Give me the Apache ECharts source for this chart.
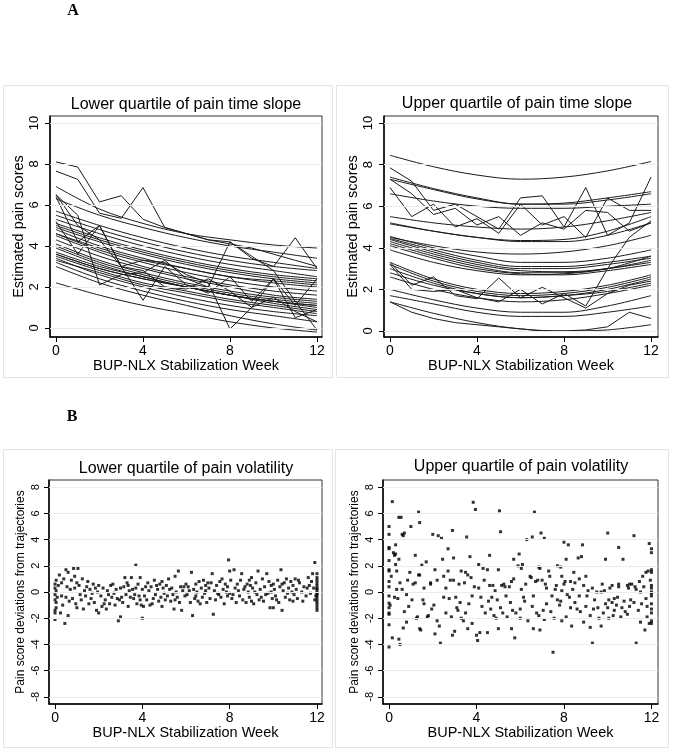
<!DOCTYPE html>
<html>
<head>
<meta charset="utf-8">
<script src="https://cdn.jsdelivr.net/npm/echarts@6/dist/echarts.min.js"></script>
<style>
html,body{margin:0;padding:0;background:#fff;}
#chart{width:673px;height:755px;}
</style>
</head>
<body>
<div id="chart"></div>
<script>
// ---------- DATA ----------
const panelTitles = ["Lower quartile of pain time slope","Upper quartile of pain time slope","Lower quartile of pain volatility","Upper quartile of pain volatility"];
const xTitle = "BUP-NLX Stabilization Week";
const yTitleTop = "Estimated pain scores";
const yTitleBottom = "Pain score deviations from trajectories";
const xTicks = [0,4,8,12];
const yTicksTop = [0,2,4,6,8,10];
const yTicksBottom = [-8,-6,-4,-2,0,2,4,6,8];
const weeksEven = [0,2,4,6,8,10,12];
const weeksAll = [0,1,2,3,4,5,6,7,8,9,10,11,12];

// Panel A-left: smooth estimated trajectories (weeks 0,2,...,12)
const lowSlopeCurves = [
 [6.9,5.8,5.1,4.6,4.3,4.05,3.9],
 [6.3,5.5,4.9,4.4,4.0,3.7,3.4],
 [5.7,5.0,4.4,3.9,3.5,3.2,2.9],
 [5.5,4.8,4.2,3.7,3.3,3.0,2.8],
 [5.3,4.6,4.0,3.5,3.1,2.8,2.5],
 [5.1,4.4,3.8,3.3,2.9,2.6,2.4],
 [5.0,4.3,3.7,3.2,2.8,2.5,2.3],
 [4.9,4.2,3.6,3.1,2.7,2.4,2.2],
 [4.8,4.0,3.4,2.9,2.5,2.2,2.0],
 [4.6,3.9,3.3,2.9,2.5,2.3,2.1],
 [4.6,3.8,3.2,2.7,2.3,2.0,1.8],
 [4.5,3.7,3.0,2.5,2.1,1.8,1.6],
 [4.3,3.5,2.9,2.4,2.0,1.6,1.4],
 [4.1,3.3,2.7,2.2,1.8,1.5,1.3],
 [4.0,3.2,2.6,2.1,1.7,1.4,1.2],
 [3.9,3.1,2.5,2.0,1.6,1.3,1.1],
 [3.7,3.0,2.5,2.0,1.6,1.3,1.0],
 [3.6,2.9,2.4,2.0,1.6,1.3,1.1],
 [3.6,2.9,2.4,2.0,1.6,1.2,0.9],
 [3.5,2.8,2.2,1.8,1.4,1.1,0.8],
 [3.4,2.6,2.0,1.5,1.1,0.8,0.6],
 [3.3,2.7,2.1,1.7,1.3,1.0,0.7],
 [3.2,2.4,1.8,1.3,0.9,0.6,0.3],
 [3.0,2.2,1.6,1.1,0.6,0.2,-0.1],
 [2.2,1.6,1.1,0.7,0.3,0.0,-0.2]
];
// Panel A-left: observed (jagged) trajectories (weeks 0..12)
const lowSlopeRaw = [
 [8.1,7.85,6.15,6.45,5.3,4.9,4.6,4.3,4.1,3.9,3.6,3.3,3.0],
 [7.65,7.25,5.6,5.35,6.85,4.9,4.6,4.3,4.2,3.4,3.0,4.4,2.9],
 [6.5,5.0,4.3,3.0,3.3,3.2,2.6,2.2,-0.05,1.0,2.4,1.1,2.4],
 [6.4,4.2,5.0,3.0,1.35,3.0,2.1,1.7,2.5,1.3,2.4,0.5,0.9],
 [6.5,5.5,2.1,2.6,2.7,3.3,2.4,2.0,4.2,3.5,2.8,1.3,-0.1],
 [5.2,3.6,5.0,3.0,2.8,2.0,1.9,2.4,1.8,1.0,1.5,0.8,0.3]
];
// Panel A-right: smooth estimated trajectories (weeks 0,2,...,12)
const highSlopeCurves = [
 [8.45,7.9,7.5,7.3,7.4,7.7,8.15],
 [7.4,6.85,6.4,6.1,6.1,6.3,6.6],
 [7.3,6.8,6.35,6.1,6.15,6.4,6.7],
 [6.6,6.25,6.0,5.9,5.9,6.0,6.1],
 [5.5,5.2,5.0,4.9,5.0,5.3,5.7],
 [5.2,4.8,4.5,4.35,4.4,4.8,5.5],
 [5.15,4.8,4.5,4.3,4.3,4.6,5.2],
 [4.55,4.0,3.6,3.3,3.3,3.5,3.9],
 [4.5,4.1,3.8,3.7,3.8,4.1,4.6],
 [4.45,3.9,3.4,3.1,3.1,3.3,3.6],
 [4.4,3.8,3.3,3.0,3.0,3.2,3.5],
 [4.3,3.7,3.2,2.9,2.85,3.0,3.4],
 [4.2,3.6,3.1,2.8,2.8,3.0,3.3],
 [4.1,3.5,3.0,2.75,2.7,2.9,3.2],
 [3.9,3.3,2.9,2.7,2.75,3.0,3.6],
 [3.3,2.5,2.0,1.8,1.9,2.2,2.7],
 [3.2,2.4,1.9,1.7,1.8,2.1,2.6],
 [3.0,2.3,1.8,1.6,1.7,2.0,2.5],
 [2.8,2.2,1.8,1.6,1.7,1.9,2.3],
 [2.6,2.0,1.6,1.4,1.5,1.8,2.2],
 [2.0,1.5,1.1,0.9,0.9,1.2,1.7],
 [1.7,1.3,0.9,0.7,0.7,0.9,1.2],
 [1.4,0.85,0.4,0.1,0.0,0.05,0.3]
];
// Panel A-right: observed (jagged) trajectories (weeks 0..12)
const highSlopeRaw = [
 [7.85,7.2,5.8,6.1,5.5,4.9,6.4,6.5,5.0,6.9,4.6,5.2,7.4],
 [7.3,6.6,5.6,5.9,5.1,5.5,4.6,5.2,4.9,5.8,5.7,4.8,5.2],
 [6.9,5.5,6.1,5.0,5.4,4.7,6.1,5.1,5.5,4.5,6.4,5.8,5.8],
 [3.3,2.2,2.6,1.7,1.55,2.55,1.6,2.1,1.6,1.1,1.8,2.2,2.4],
 [3.2,2.0,1.9,2.0,1.6,1.4,2.0,1.3,1.8,1.2,3.0,4.5,5.3],
 [1.4,0.9,0.6,0.4,0.3,0.2,0.1,0.0,0.0,0.05,0.2,0.9,0.6]
];
// Panel B-left: deviations [week, deviation]
const lowVolPoints = [
 [0,0.6],[0,0.3],[0,-0.2],[0,-0.6],[0,-1.4],[0,-1.6],[0,-2.1],[0.05,0.9],[0.05,-1.2],[0.05,-0.8],[0.05,0.1],
 [0.2,1.3],[0.25,-1.6],[0.3,0.7],[0.3,-0.3],[0.4,1.0],[0.45,-2.4],[0.5,1.7],[0.5,-0.4],[0.55,0.4],[0.6,-1.8],[0.6,1.5],[0.7,0.2],[0.75,0.9],[0.8,-0.5],[0.85,1.8],[0.9,0.3],[0.95,-0.9],[1.0,0.7],[1.0,-1.2],
 [1.05,1.8],[1.1,0.5],[1.2,-0.6],[1.25,1.0],[1.3,-1.3],[1.35,0.1],[1.4,-0.3],[1.5,0.8],[1.55,-0.9],[1.6,0.2],[1.7,-0.1],[1.75,0.6],[1.8,-0.8],[1.9,-1.4],[1.95,0.0],[2.0,-1.6],[2.0,0.5],
 [2.1,-0.3],[2.15,-1.1],[2.2,0.3],[2.3,-0.6],[2.35,-1.3],[2.4,0.1],[2.45,-0.2],[2.5,-0.9],[2.55,0.5],[2.6,-0.4],[2.7,-0.1],[2.75,-1.0],[2.8,0.2],[2.85,-0.5],[2.9,-2.2],[2.95,-0.6],[3.0,-1.9],[3.0,0.3],
 [3.1,-0.8],[3.15,0.4],[3.2,1.1],[3.25,-0.2],[3.3,0.7],[3.35,-1.1],[3.4,0.1],[3.45,-0.4],[3.5,1.1],[3.55,0.2],[3.6,-0.5],[3.7,0.3],[3.7,2.05],[3.75,-0.9],[3.8,0.6],[3.85,-0.3],[3.9,1.1],[3.95,-1.0],[4.0,-2.0],[4.0,0.2],
 [4.05,-1.1],[4.1,-0.3],[4.15,0.4],[4.2,-0.6],[4.3,0.1],[4.35,-1.0],[4.4,0.4],[4.5,-0.5],[4.55,0.9],[4.6,-0.2],[4.7,0.2],[4.75,-0.7],[4.8,0.6],[4.85,-0.4],[4.9,-1.1],[4.95,0.3],[5.0,-0.1],
 [5.05,-0.6],[5.1,0.5],[5.15,-0.3],[5.2,1.0],[5.3,-0.7],[5.35,0.3],[5.4,-0.2],[5.45,-1.3],[5.5,1.2],[5.55,0.0],[5.6,-0.4],[5.65,1.6],[5.7,-0.8],[5.75,0.4],[5.8,-1.4],[5.85,0.1],[5.95,-0.3],[6.0,0.6],
 [6.05,-0.2],[6.1,0.4],[6.2,-0.8],[6.25,1.5],[6.3,-1.8],[6.35,0.2],[6.4,-0.5],[6.45,0.6],[6.5,0.0],[6.55,-0.7],[6.6,0.8],[6.7,0.3],[6.75,-0.4],[6.8,0.9],[6.85,-0.1],[6.9,0.5],[6.95,-0.8],[7.0,0.7],
 [7.05,0.3],[7.1,-0.5],[7.2,1.4],[7.25,-1.7],[7.3,0.1],[7.35,-0.6],[7.4,0.5],[7.5,-0.2],[7.55,0.8],[7.6,-0.4],[7.7,0.2],[7.75,-0.9],[7.8,0.6],[7.85,0.0],[7.9,-0.3],[7.95,2.45],[8.0,1.6],[8.0,-0.1],
 [8.05,0.9],[8.1,-0.5],[8.2,1.7],[8.25,0.3],[8.3,-0.8],[8.4,0.1],[8.45,-0.3],[8.5,0.9],[8.55,1.4],[8.6,-0.6],[8.7,0.4],[8.75,-0.8],[8.8,0.6],[8.85,0.0],[8.9,-0.4],[8.95,0.5],[9.0,1.1],[9.0,-0.7],
 [9.05,0.3],[9.1,-0.9],[9.2,0.7],[9.25,-0.2],[9.3,1.6],[9.4,0.2],[9.45,-0.4],[9.5,1.0],[9.55,-0.7],[9.6,0.4],[9.7,1.4],[9.75,-0.1],[9.8,0.8],[9.85,-1.2],[9.9,0.0],[9.95,-0.5],[10.0,0.6],[10.0,-1.2],
 [10.05,0.2],[10.1,-0.3],[10.2,0.9],[10.25,-0.8],[10.3,0.4],[10.35,1.7],[10.4,-1.4],[10.45,0.1],[10.5,0.7],[10.55,-0.4],[10.6,1.0],[10.7,0.3],[10.75,-0.6],[10.8,0.8],[10.85,0.0],[10.9,0.5],[10.95,-0.2],[11.0,1.0],
 [11.05,0.2],[11.1,-0.5],[11.2,0.7],[11.3,0.0],[11.4,0.4],[11.5,-0.3],[11.6,1.1],[11.65,0.5],[11.7,-0.1],[11.8,1.4],[11.85,0.3],[11.9,2.25],[11.9,-0.6],
 [12,1.4],[12,0.9],[12,0.5],[12,0.2],[12,0.0],[12,-0.2],[12,-0.4],[12,-0.6],[12,-0.8],[12,-1.0],[12,-1.2],[12,-0.1],[12,0.3],
 [0.1,-0.4],[0.15,0.5],[0.35,-1.0],[0.65,-0.7],[0.9,1.2],[1.15,-0.2],[1.45,0.4],[1.65,-0.5],[1.85,0.3],[2.25,-0.9],[2.65,0.6],[3.05,-0.4],[3.35,0.5],[3.65,-0.2],[3.9,-0.6],[4.25,0.7],[4.45,-0.9],[4.65,0.5],[4.9,0.8],[5.25,0.2],[5.5,-0.6],[5.9,0.4],[6.15,0.1],[6.45,-0.3],[6.65,-0.9],[6.9,0.1],[7.15,0.7],[7.45,-0.1],[7.65,1.0],[7.9,0.4],[8.15,-0.2],[8.35,0.6],[8.65,0.2],[8.9,0.9],[9.15,0.0],[9.35,-0.6],[9.65,-0.2],[9.9,0.5],[10.15,-0.6],[10.4,0.6],[10.65,-0.1],[10.9,-0.7],[11.15,0.9],[11.35,-0.7],[11.55,0.3],[11.75,0.8],[11.95,-0.3],[12,-1.4],[12,0.7],[12,1.1]
];
// Panel B-right: deviations [week, deviation]
const highVolPoints = [
 [0,5.0],[0,4.4],[0,3.4],[0,3.3],[0,2.4],[0,1.7],[0,1.6],[0,0.8],[0,0.4],[0,-0.3],[0,-0.85],[0,-1.2],[0,-1.6],[0,-1.7],[0,-2.5],[0,-4.2],
 [0.15,6.9],[0.15,-3.5],[0.2,3.0],[0.25,2.8],[0.3,2.9],[0.3,2.1],[0.3,3.6],[0.35,1.6],[0.4,-0.5],[0.45,5.7],[0.45,2.5],[0.45,-3.6],[0.5,-4.0],[0.55,5.7],[0.6,4.4],[0.65,4.3],[0.7,4.5],[0.6,0.2],[0.65,-2.75],[0.8,-2.3],[0.85,0.9],[0.9,-1.1],[0.95,1.5],
 [1.0,5.0],[1.1,0.6],[1.2,2.8],[1.3,-1.9],[1.35,6.1],[1.35,1.3],[1.4,1.3],[1.4,5.3],[1.4,-2.8],[1.45,-2.9],[1.5,2.05],[1.6,-0.9],[1.7,2.3],[1.75,-1.9],[1.8,-1.8],[1.9,0.6],
 [2.0,4.4],[2.1,1.7],[2.1,-3.2],[2.2,-2.2],[2.25,4.3],[2.3,-2.6],[2.35,-3.9],[2.4,4.1],[2.45,2.5],[2.5,-0.4],[2.6,-1.6],[2.7,1.6],[2.7,3.3],[2.8,0.9],[2.9,4.7],[2.9,-3.3],[2.95,2.6],
 [3.0,-3.0],[3.05,-0.4],[3.1,-1.2],[3.2,0.6],[3.3,1.6],[3.3,-2.0],[3.4,-2.2],[3.5,1.5],[3.55,4.2],[3.6,1.3],[3.6,-2.8],[3.7,2.7],[3.75,1.1],[3.8,-2.4],[3.85,6.85],[3.9,0.4],[3.95,6.3],
 [4.0,-3.3],[4.05,-3.7],[4.1,2.1],[4.15,-3.1],[4.2,-0.4],[4.3,1.8],[4.4,-1.6],[4.5,1.7],[4.5,-3.1],[4.6,2.8],[4.7,-0.4],[4.75,0.5],[4.8,-1.8],[4.9,-2.0],
 [5.0,1.7],[5.0,-2.8],[5.05,6.2],[5.1,4.6],[5.15,0.5],[5.2,-1.6],[5.3,0.4],[5.4,-1.9],[5.5,0.4],[5.55,-0.8],[5.6,-2.8],[5.7,2.5],[5.75,-3.5],[5.8,-1.6],[5.9,2.0],[5.95,2.9],
 [6.0,-2.0],[6.05,1.8],[6.1,2.1],[6.2,-0.7],[6.3,4.0],[6.35,-2.2],[6.45,1.2],[6.5,1.1],[6.55,4.2],[6.6,-2.8],[6.65,6.1],[6.7,0.8],[6.75,-1.6],[6.85,1.9],[6.9,1.8],[6.95,4.5],[6.9,-2.9],
 [7.0,0.9],[7.1,4.1],[7.1,-2.1],[7.2,-0.9],[7.3,1.6],[7.35,1.2],[7.4,-1.5],[7.5,-4.6],[7.6,0.2],[7.7,2.0],[7.7,-0.6],[7.8,-1.0],[7.85,1.9],[7.9,1.2],[7.9,-2.2],
 [8.0,3.8],[8.05,0.8],[8.1,2.5],[8.1,-1.9],[8.2,3.6],[8.3,0.8],[8.3,-1.2],[8.35,-2.6],[8.5,0.7],[8.5,-0.8],[8.65,2.6],[8.7,1.0],[8.75,-1.5],[8.8,2.7],[8.85,3.6],[8.9,-2.3],
 [9.0,-1.1],[9.1,0.1],[9.2,-2.7],[9.3,-3.9],[9.4,-0.6],[9.5,0.0],[9.6,-2.0],[9.7,-2.6],[9.8,-1.6],[9.85,0.1],[9.9,2.5],
 [10.0,4.5],[10.0,-1.2],[10.05,-2.0],[10.2,0.5],[10.2,-0.8],[10.3,-1.4],[10.4,-1.0],[10.5,3.4],[10.5,0.4],[10.6,-1.9],[10.7,2.5],[10.75,-0.7],[10.9,-1.7],[10.95,0.3],
 [11.0,-1.1],[11.1,0.6],[11.2,4.3],[11.25,0.4],[11.3,-3.9],[11.4,-1.4],[11.45,0.8],[11.5,-2.3],[11.6,1.2],[11.7,-2.9],[11.75,1.5],[11.8,-1.9],[11.85,1.6],[11.9,-2.4],[11.9,3.7],
 [12,3.3],[12,3.0],[12,1.7],[12,1.5],[12,0.5],[12,0.3],[12,-0.1],[12,-0.3],[12,-0.9],[12,-1.6],[12,-2.2],[12,-2.4],
 [0.35,0.2],[1.2,0.7],[1.9,0.7],[2.6,0.3],[2.95,0.9],[3.45,0.7],[4.1,0.3],[4.6,0.5],[4.85,0.1],[5.25,0.6],[5.6,0.8],[6.05,0.2],[6.8,0.9],[7.2,0.3],[7.65,0.5],[8.0,0.6],[8.4,0.2],[8.9,0.5],[9.3,0.3],[9.7,0.0],[10.1,0.3],[10.5,0.6],[10.9,0.5],[11.3,0.2],[11.65,0.4],
 [0.25,-0.4],[0.8,-0.2],[1.55,-0.6],[2.05,-1.0],[2.75,-0.5],[3.15,-1.4],[3.65,-0.9],[4.25,-1.1],[4.55,-0.7],[5.1,-1.2],[5.65,-1.4],[6.15,-0.4],[6.55,-1.1],[7.05,-1.4],[7.45,-0.3],[7.85,-0.7],[8.25,-0.4],[8.6,-1.3],[9.05,-0.3],[9.35,-1.3],[9.9,-0.9],[10.3,-0.5],[10.65,-1.2],[11.05,-0.6],[11.55,-0.9],[11.8,-1.1],
 [0.05,-1.0],[0.1,1.2],[0.5,0.7],[0.7,-1.5],[1.05,-0.6],[1.25,-2.0],[1.6,0.3],[1.95,-1.3],[2.2,0.9],[2.5,1.2],[2.85,-1.9],[3.25,-0.8],[3.5,-1.6],[3.8,-0.3],[4.35,0.9],[4.65,-1.3],[4.95,-0.6],[5.35,-0.3],[5.7,1.0],[6.0,-1.3],[6.25,0.6],[6.6,-0.3],[6.85,-1.8],[7.15,0.6],[7.55,-2.0],[7.9,0.1],[8.15,-0.2],[8.45,1.5],[8.7,-0.3],[9.0,1.2],[9.2,-1.8],[9.55,-1.2],[9.75,0.6],[10.05,-0.6],[10.25,-1.8],[10.45,-0.4],[10.8,-1.5],[11.0,0.6],[11.2,-0.8],[11.5,0.0],[11.75,-0.5],[11.95,0.9],[12,-1.3],[12,0.0]
];

// ---------- CHART ----------
const FONT = '"Liberation Sans", Arial, sans-serif';
const chart = echarts.init(document.getElementById('chart'), null, {renderer:'canvas'});

const grids = [
  {left:50, top:116, width:272, height:221},
  {left:384, top:116, width:274, height:221},
  {left:49, top:480, width:273, height:224},
  {left:383, top:480, width:275, height:224}
];
const xRanges = [[-0.276,12.23],[-0.276,12.32],[-0.276,12.23],[-0.276,12.3]];
const yRanges = [[-0.44,10.34],[-0.29,10.34],[-8.55,8.55],[-8.55,8.55]];

function xAxisFor(i){
  return {
    type:'value', gridIndex:i, min:xRanges[i][0], max:xRanges[i][1],
    axisLine:{show:true, onZero:false, lineStyle:{color:'#000', width:1.5}},
    axisTick:{show:true, customValues:xTicks, length:5, inside:false, lineStyle:{color:'#000', width:1}},
    axisLabel:{show:true, customValues:xTicks, color:'#000', fontSize:14, fontFamily:FONT, margin:7},
    splitLine:{show:false},
    name:xTitle, nameLocation:'middle', nameGap:21,
    nameTextStyle:{color:'#000', fontSize:14.5, fontFamily:FONT}
  };
}
function yAxisFor(i){
  const top = i < 2;
  const ticks = top ? yTicksTop : yTicksBottom;
  return {
    type:'value', gridIndex:i, min:yRanges[i][0], max:yRanges[i][1],
    axisLine:{show:true, onZero:false, lineStyle:{color:'#000', width:1.5}},
    axisTick:{show:true, customValues:ticks, length:5, lineStyle:{color:'#000', width:1}},
    axisLabel:{show:true, customValues:ticks, rotate:90, color:'#000',
      fontSize: top ? 13 : 11, fontFamily:FONT, margin: top ? 9 : 8},
    splitLine:{show:false},
    name: top ? yTitleTop : yTitleBottom, nameLocation:'middle', nameGap: top ? 24 : 22,
    nameTextStyle:{color:'#000', fontSize: top ? 14.5 : 12, fontFamily:FONT}
  };
}

const series = [];
// light horizontal gridlines at y ticks
for (let i=0;i<4;i++){
  const ticks = i<2 ? yTicksTop : yTicksBottom;
  series.push({
    type:'line', xAxisIndex:i, yAxisIndex:i, data:[], silent:true, z:1,
    markLine:{silent:true, symbol:['none','none'], label:{show:false},
      lineStyle:{color:'#ececec', width:1, type:'solid'},
      data: ticks.map(t => ({yAxis:t}))}
  });
}
function addCurves(arr, weeks, idx, smooth){
  arr.forEach(vals => {
    series.push({
      type:'line', xAxisIndex:idx, yAxisIndex:idx, smooth: smooth ? 0.35 : false,
      showSymbol:false, symbol:'none', silent:true, z:3,
      lineStyle:{color:'#1a1a1a', width:1},
      data: vals.map((v,k) => [weeks[k], v])
    });
  });
}
addCurves(lowSlopeCurves, weeksEven, 0, true);
addCurves(lowSlopeRaw, weeksAll, 0, false);
addCurves(highSlopeCurves, weeksEven, 1, true);
addCurves(highSlopeRaw, weeksAll, 1, false);

series.push({type:'scatter', xAxisIndex:2, yAxisIndex:2, data:lowVolPoints,
  symbol:'rect', symbolSize:3, itemStyle:{color:'#000'}, silent:true, z:3});
series.push({type:'scatter', xAxisIndex:3, yAxisIndex:3, data:highVolPoints,
  symbol:'rect', symbolSize:3, itemStyle:{color:'#000'}, silent:true, z:3});

const titlePos = [[186,105],[517,104],[186,469],[521,467]];
const graphics = [
  {type:'rect', shape:{x:3.5,y:85.5,width:329,height:292}, style:{fill:'none', stroke:'#e4e4e4', lineWidth:1}, silent:true},
  {type:'rect', shape:{x:336.5,y:85.5,width:332,height:292}, style:{fill:'none', stroke:'#e4e4e4', lineWidth:1}, silent:true},
  {type:'rect', shape:{x:3.5,y:449.5,width:329,height:298}, style:{fill:'none', stroke:'#e4e4e4', lineWidth:1}, silent:true},
  {type:'rect', shape:{x:335.5,y:449.5,width:333,height:298}, style:{fill:'none', stroke:'#e4e4e4', lineWidth:1}, silent:true},
  {type:'text', x:73, y:11, style:{text:'A', font:'bold 16px "Liberation Serif", "Times New Roman", serif', fill:'#000', align:'center', verticalAlign:'middle'}},
  {type:'text', x:72, y:417, style:{text:'B', font:'bold 16px "Liberation Serif", "Times New Roman", serif', fill:'#000', align:'center', verticalAlign:'middle'}}
];
panelTitles.forEach((t,i) => {
  graphics.push({type:'text', x:titlePos[i][0], y:titlePos[i][1],
    style:{text:t, font:'16px ' + FONT, fill:'#000', align:'center', verticalAlign:'middle'}});
});

chart.setOption({
  animation:false,
  backgroundColor:'#fff',
  grid: grids.map(g => Object.assign({show:true, borderColor:'#333', borderWidth:1, backgroundColor:'#fff', containLabel:false, outerBoundsMode:'none'}, g)),
  xAxis:[0,1,2,3].map(xAxisFor),
  yAxis:[0,1,2,3].map(yAxisFor),
  graphic:graphics,
  series:series
});
</script>
</body>
</html>
